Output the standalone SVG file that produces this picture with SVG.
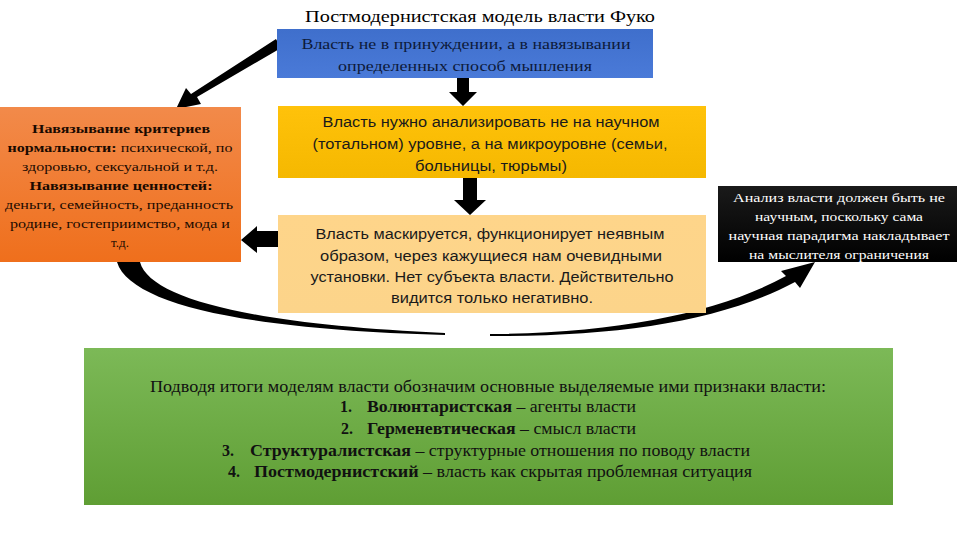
<svg xmlns="http://www.w3.org/2000/svg" width="960" height="540" viewBox="0 0 960 540">
<defs>
<linearGradient id="gBlue" x1="0" y1="0" x2="0" y2="1"><stop offset="0" stop-color="#3f6fcc"/><stop offset="1" stop-color="#4a7ad8"/></linearGradient>
<linearGradient id="gGold" x1="0" y1="0" x2="0" y2="1"><stop offset="0" stop-color="#ffc20a"/><stop offset="1" stop-color="#f5b800"/></linearGradient>
<linearGradient id="gLight" x1="0" y1="0" x2="0" y2="1"><stop offset="0" stop-color="#fed58a"/><stop offset="1" stop-color="#fcd48a"/></linearGradient>
<linearGradient id="gOrange" x1="0" y1="0" x2="0" y2="1"><stop offset="0" stop-color="#f28a4a"/><stop offset="1" stop-color="#ef6f1c"/></linearGradient>
<linearGradient id="gBlack" x1="0" y1="0" x2="0" y2="1"><stop offset="0" stop-color="#1a1a1a"/><stop offset="1" stop-color="#000"/></linearGradient>
<linearGradient id="gGreen" x1="0" y1="0" x2="0" y2="1"><stop offset="0" stop-color="#7cb957"/><stop offset="1" stop-color="#5f9e34"/></linearGradient>
</defs>
<style>
.serif{font-family:"Liberation Serif","Times New Roman",serif;}
.sans{font-family:"Liberation Sans",Arial,sans-serif;}
.c{text-anchor:middle;}
.b{font-weight:bold;}
.t14{font-size:14px;fill:#1a1a1a;}
.o{font-size:13px;fill:#1a0a00;}
.w{font-size:13px;fill:#ffffff;}
.g{font-size:16px;fill:#111;}
.arr{fill:#000;}
</style>
<rect width="960" height="540" fill="#ffffff"/>
<text class="serif c" x="480" y="22" font-size="17.5" fill="#000" textLength="350" lengthAdjust="spacingAndGlyphs">Постмодернистская модель власти Фуко</text>

<g id="connectors">
<path class="arr" d="M276,39 L281,48 L197,97 L201,104 L176,109 L186,88 L191,94 Z"/>
<path class="arr" d="M457,78 L469,78 L469,92 L477,92 L463,106 L449,92 L457,92 Z"/>
<path class="arr" d="M463,178 L477,178 L477,200 L486,200 L470,215 L454,200 L463,200 Z"/>
<path class="arr" d="M278,231 L278,247 L257,247 L257,253 L241,240 L257,226 L257,231 Z"/>
<path class="arr" d="M117,262 L140,262 C150,300 260,325 445,333 L445,335 C250,330 130,305 117,262 Z"/>
<path class="arr" d="M490,334 C620,333 720,312 786,276 L781,271 L815,262 L800,288 L795,282 C725,320 620,337 490,336 Z"/>
</g>

<g id="node-blue">
<rect x="277" y="29" width="376" height="49" fill="url(#gBlue)"/>
<text class="serif c" x="466" y="49" font-size="15.5" fill="#0d1a3a" textLength="329" lengthAdjust="spacingAndGlyphs">Власть не в принуждении, а в навязывании</text>
<text class="serif c" x="465" y="71" font-size="15.5" fill="#0d1a3a" textLength="254" lengthAdjust="spacingAndGlyphs">определенных способ мышления</text>
</g>

<g id="node-gold">
<rect x="278" y="106" width="428" height="72" fill="url(#gGold)"/>
<text class="sans c t14" x="491" y="127" textLength="337" lengthAdjust="spacingAndGlyphs">Власть нужно анализировать не на научном</text>
<text class="sans c t14" x="490" y="149" textLength="355" lengthAdjust="spacingAndGlyphs">(тотальном) уровне, а на микроуровне (семьи,</text>
<text class="sans c t14" x="491" y="171" textLength="152" lengthAdjust="spacingAndGlyphs">больницы, тюрьмы)</text>
</g>

<g id="node-light">
<rect x="278" y="215" width="428" height="98" fill="url(#gLight)"/>
<text class="sans c t14" x="490" y="239" textLength="349" lengthAdjust="spacingAndGlyphs">Власть маскируется, функционирует неявным</text>
<text class="sans c t14" x="491" y="261" textLength="342" lengthAdjust="spacingAndGlyphs">образом, через кажущиеся нам очевидными</text>
<text class="sans c t14" x="492" y="282" textLength="363" lengthAdjust="spacingAndGlyphs">установки. Нет субъекта власти. Действительно</text>
<text class="sans c t14" x="492" y="303" textLength="202" lengthAdjust="spacingAndGlyphs">видится только негативно.</text>
</g>

<g id="node-orange">
<rect x="0" y="107" width="241" height="155" fill="url(#gOrange)"/>
<text class="serif c o b" x="121" y="133" textLength="178" lengthAdjust="spacingAndGlyphs">Навязывание критериев</text>
<text class="serif c o" x="120" y="152" textLength="225" lengthAdjust="spacingAndGlyphs"><tspan class="b">нормальности:</tspan> психической, по</text>
<text class="serif c o" x="120" y="171" textLength="196" lengthAdjust="spacingAndGlyphs">здоровью, сексуальной и т.д.</text>
<text class="serif c o b" x="121" y="190" textLength="183" lengthAdjust="spacingAndGlyphs">Навязывание ценностей:</text>
<text class="serif c o" x="119" y="209" textLength="228" lengthAdjust="spacingAndGlyphs">деньги, семейность, преданность</text>
<text class="serif c o" x="120" y="228" textLength="220" lengthAdjust="spacingAndGlyphs">родине, гостеприимство, мода и</text>
<text class="serif c o" x="120" y="247">т.д.</text>
</g>

<g id="node-black">
<rect x="718" y="186" width="239" height="76" fill="url(#gBlack)"/>
<text class="serif c w" x="839" y="202" textLength="212" lengthAdjust="spacingAndGlyphs">Анализ власти должен быть не</text>
<text class="serif c w" x="839" y="221" textLength="168" lengthAdjust="spacingAndGlyphs">научным, поскольку сама</text>
<text class="serif c w" x="839" y="240" textLength="221" lengthAdjust="spacingAndGlyphs">научная парадигма накладывает</text>
<text class="serif c w" x="839" y="259" textLength="180" lengthAdjust="spacingAndGlyphs">на мыслителя ограничения</text>
</g>

<g id="node-green">
<rect x="84" y="348" width="809" height="157" fill="url(#gGreen)"/>
<text class="serif c g" x="488" y="392" textLength="676" lengthAdjust="spacingAndGlyphs">Подводя итоги моделям власти обозначим основные выделяемые ими признаки власти:</text>
<text class="serif g b" x="340" y="412">1.</text>
<text class="serif g" x="367" y="412" textLength="269" lengthAdjust="spacingAndGlyphs"><tspan class="b">Волюнтаристская</tspan> – агенты власти</text>
<text class="serif g b" x="341" y="434">2.</text>
<text class="serif g" x="367" y="434" textLength="269" lengthAdjust="spacingAndGlyphs"><tspan class="b">Герменевтическая</tspan> – смысл власти</text>
<text class="serif g b" x="222" y="456">3.</text>
<text class="serif g" x="250" y="456" textLength="500" lengthAdjust="spacingAndGlyphs"><tspan class="b">Структуралистская</tspan> – структурные отношения по поводу власти</text>
<text class="serif g b" x="228" y="477">4.</text>
<text class="serif g" x="254" y="477" textLength="498" lengthAdjust="spacingAndGlyphs"><tspan class="b">Постмодернистский</tspan> – власть как скрытая проблемная ситуация</text>
</g>
</svg>
